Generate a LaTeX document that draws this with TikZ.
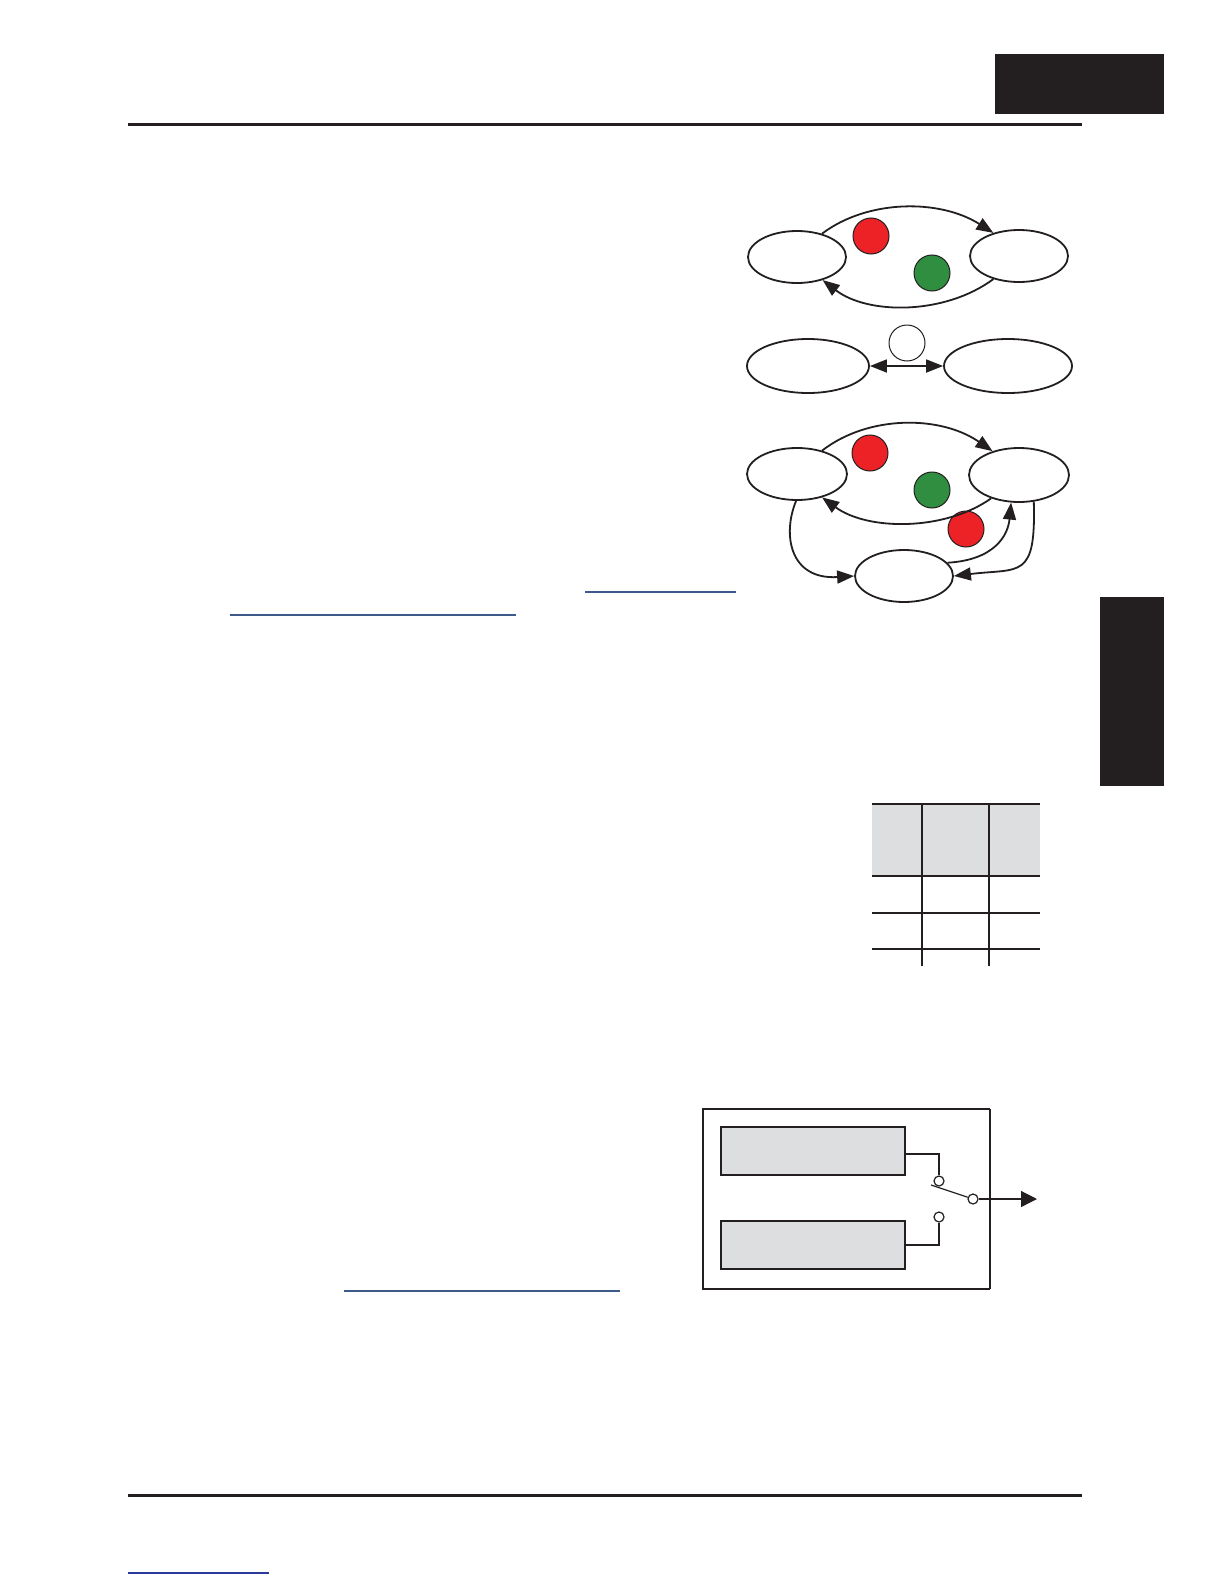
\documentclass[tikz,border=0pt]{standalone}
\usetikzlibrary{shapes.geometric,arrows.meta}
\definecolor{ink}{HTML}{231F20}
\definecolor{redc}{HTML}{EC2227}
\definecolor{greenc}{HTML}{2F8E3F}
\definecolor{grayf}{HTML}{DDDEDF}
\definecolor{linkc}{HTML}{3D5A8A}
\definecolor{linkb}{HTML}{2B3A9A}
\tikzset{
  st/.style={ellipse, draw=ink, line width=0.9pt, fill=white, inner sep=0pt},
  dot/.style={circle, draw=ink, line width=0.5pt, inner sep=0pt, minimum size=18pt},
  conn/.style={draw=ink, line width=0.9pt, -{Triangle[length=8.5pt,width=6.5pt]}},
  dconn/.style={draw=ink, line width=0.9pt, {Triangle[length=8.5pt,width=6.5pt]}-{Triangle[length=8.5pt,width=6.5pt]}},
  rule/.style={draw=ink, line width=1.5pt},
  gbox/.style={rectangle, draw=ink, line width=0.8pt, fill=grayf, inner sep=0pt, minimum width=92pt, minimum height=24pt},
  contact/.style={circle, draw=ink, line width=0.6pt, fill=white, inner sep=0pt, minimum size=5pt},
  wire/.style={draw=ink, line width=0.6pt},
  link/.style={draw=linkc, line width=0.6pt},
  tline/.style={draw=ink, line width=1pt},
  tthin/.style={draw=ink, line width=0.6pt}
}
\begin{document}
\begin{tikzpicture}[x=0.5pt,y=-0.5pt]
\useasboundingbox (0,0) rectangle (1224,1584);
\fill[white] (0,0) rectangle (1224,1584);

% page furniture
\fill[ink] (995,54) rectangle (1164,114);
\fill[ink] (1100,597) rectangle (1164,786);
\coordinate (tr1) at (128,125); \coordinate (tr2) at (1082,125);
\draw[rule] (tr1) -- (tr2);
\coordinate (br1) at (128,1495); \coordinate (br2) at (1082,1495);
\draw[rule] (br1) -- (br2);

% link underlines
\coordinate (l1a) at (585,592); \coordinate (l1b) at (736,592);
\coordinate (l2a) at (230,615); \coordinate (l2b) at (516,615);
\coordinate (l3a) at (344,1291); \coordinate (l3b) at (620,1291);
\coordinate (l4a) at (128,1573); \coordinate (l4b) at (269,1573);
\draw[link] (l1a) -- (l1b);
\draw[link] (l2a) -- (l2b);
\draw[link] (l3a) -- (l3b);
\draw[link,draw=linkb] (l4a) -- (l4b);

% diagram 1
\node[st, minimum width=49pt, minimum height=26pt] (a1) at (797,257) {};
\node[st, minimum width=49pt, minimum height=26pt] (b1) at (1019,256) {};
\node[dot, fill=redc] (r1) at (871,236) {};
\node[dot, fill=greenc] (g1) at (932,273) {};
\draw[conn] (a1.43) .. controls (868,199) and (940,199) .. (b1.138);
\draw[conn] (b1.222) .. controls (945,315) and (868,315) .. (a1.318);

% diagram 2
\node[st, minimum width=61pt, minimum height=27pt] (a2) at (808,366) {};
\node[st, minimum width=64pt, minimum height=27pt] (b2) at (1008,366) {};
\node[dot, fill=white] (w2) at (907,343) {};
\draw[dconn] (a2) -- (b2);

% diagram 3
\node[st, minimum width=50pt, minimum height=26pt] (a3) at (797,474) {};
\node[st, minimum width=50pt, minimum height=27pt] (b3) at (1019,475) {};
\node[st, minimum width=49pt, minimum height=26pt] (c3) at (904,576) {};
\node[dot, fill=redc] (r3) at (870,453) {};
\node[dot, fill=greenc] (g3) at (932,490) {};
\node[dot, fill=redc] (r4) at (966,529) {};
\draw[conn] (a3.43) .. controls (868,415) and (940,415) .. (b3.138);
\draw[conn] (b3.220) .. controls (945,531) and (868,531) .. (a3.317);
\draw[conn] (a3.268) .. controls (782,535) and (790,580) .. (c3.west);
\draw[conn] (c3.17) .. controls (995,560) and (1008,535) .. (b3.254);
\draw[conn] (b3.299) .. controls (1036,580) and (1020,568) .. (c3.east);

% table
\fill[grayf] (872,804) rectangle (1040,876);
\coordinate (t1a) at (872,804); \coordinate (t1b) at (1040,804);
\coordinate (t2a) at (872,876); \coordinate (t2b) at (1040,876);
\coordinate (t3a) at (872,913); \coordinate (t3b) at (1040,913);
\coordinate (t4a) at (872,949); \coordinate (t4b) at (1040,949);
\coordinate (v1a) at (922,804); \coordinate (v1b) at (922,966);
\coordinate (v2a) at (989,804); \coordinate (v2b) at (989,966);
\draw[tline] (t1a) -- (t1b);
\draw[tthin] (t2a) -- (t2b);
\draw[tline] (t3a) -- (t3b);
\draw[tline] (t4a) -- (t4b);
\draw[tthin] (v1a) -- (v1b);
\draw[tline] (v2a) -- (v2b);

% block diagram
\draw[wire, line width=0.7pt] (990,1109) -- (703,1109) -- (703,1289) -- (990,1289);
\draw[ink, line width=1.1pt] (990,1109) -- (990,1289);
\node[gbox] (top) at (813,1151) {};
\node[gbox] (bot) at (813,1245) {};
\node[contact] (c1) at (939,1181) {};
\node[contact] (c2) at (939,1217) {};
\node[contact] (sw) at (973,1199) {};
\coordinate (lever) at (931,1185);
\coordinate (out) at (1037,1199);
\draw[wire] ([yshift=-1.5pt]top.east) -| (c1.north);
\draw[wire, line width=0.9pt] (bot.east) -| (c2.south);
\draw[wire] (lever) -- (sw);
\draw[wire, -{Triangle[length=8pt,width=8pt]}] (sw.east) -- (out);
\end{tikzpicture}
\end{document}
